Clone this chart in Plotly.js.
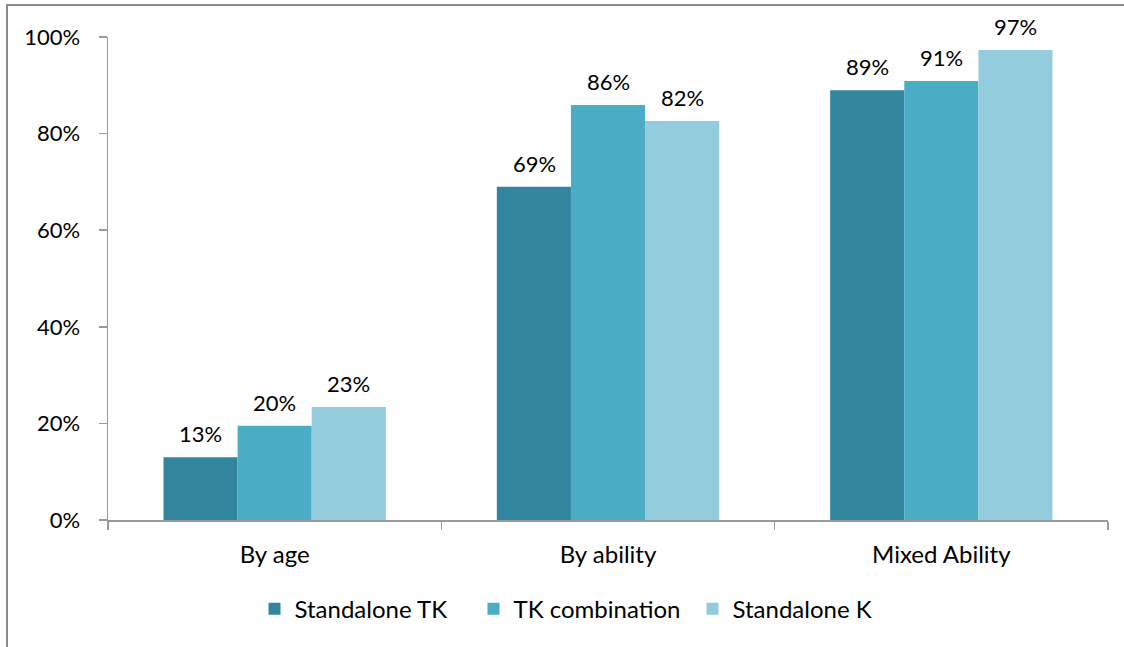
<!DOCTYPE html>
<html>
<head>
<meta charset="utf-8">
<script src="https://cdn.plot.ly/plotly-3.0.1.min.js"></script>
<style>
  html, body { margin: 0; padding: 0; background: #fff; }
  #wrap { position: relative; width: 1124px; height: 647px; overflow: hidden; }
  #chart { position: absolute; left: 0; top: 0; width: 1124px; height: 647px; }
  #frame { position: absolute; left: 6px; top: 4px; width: 1130px; height: 660px;
           border-left: 2px solid #8a8a8a; border-top: 2px solid #8a8a8a; pointer-events: none; }
</style>
</head>
<body>
<div id="wrap">
  <div id="chart"></div>
  <div id="frame"></div>
</div>
<script>
const categories = ["By age", "By ability", "Mixed Ability"];
const seriesNames = ["Standalone TK", "TK combination", "Standalone K"];
const standaloneTK = [0.13, 0.69, 0.89];
const tkCombination = [0.195, 0.859, 0.909];
const standaloneK = [0.234, 0.826, 0.973];
const labelsTK = ["13%", "69%", "89%"];
const labelsComb = ["20%", "86%", "91%"];
const labelsK = ["23%", "82%", "97%"];
const colors = ["#31859c", "#4bacc6", "#93cddd"];

const fontFam = "Lato, 'Open Sans', 'Noto Sans', sans-serif";
const FS = 22;
const vals = [standaloneTK, tkCombination, standaloneK];
const labs = [labelsTK, labelsComb, labelsK];

const data = seriesNames.map((n, i) => ({
  type: "bar",
  name: n,
  x: categories,
  y: vals[i],
  marker: { color: colors[i], line: { width: 0 } },
  hoverinfo: "skip"
}));

const barPx = 74;
const annotations = [];
vals.forEach((arr, i) => {
  arr.forEach((v, j) => {
    annotations.push({
      x: categories[j], y: v, xref: "x", yref: "y",
      text: labs[i][j], showarrow: false,
      xanchor: "center", yanchor: "bottom",
      xshift: (i - 1) * barPx, yshift: 8,
      font: { family: fontFam, size: FS, color: "#000" }
    });
  });
});

const layout = {
  width: 1124, height: 647,
  margin: { l: 108, r: 16, t: 37, b: 127, autoexpand: false },
  paper_bgcolor: "#fff", plot_bgcolor: "#fff",
  barmode: "group", bargap: 0.333, bargroupgap: 0,
  font: { family: fontFam, size: FS, color: "#000" },
  showlegend: true,
  annotations: annotations,
  legend: { orientation: "h", x: 0.475, xanchor: "center", y: -0.138, yanchor: "top",
            entrywidth: 174, entrywidthmode: "pixels",
            font: { family: fontFam, size: 24, color: "#000" }, itemwidth: 30, tracegroupgap: 0 },
  xaxis: {
    showline: true, linecolor: "#9a9a9a", linewidth: 1.5,
    ticks: "outside", tickson: "boundaries", ticklen: 8, tickcolor: "#9a9a9a", tickwidth: 1.5,
    ticklabelstandoff: 13, automargin: false,
    showgrid: false, zeroline: false,
    tickfont: { family: fontFam, size: 24, color: "#000" }
  },
  yaxis: {
    range: [0, 1], dtick: 0.2, tickformat: ".0%",
    showline: true, linecolor: "#9a9a9a", linewidth: 1.5,
    ticks: "outside", ticklen: 8, tickcolor: "#9a9a9a", tickwidth: 1.5,
    ticklabelstandoff: 14, automargin: false,
    showgrid: false, zeroline: false,
    tickfont: { family: fontFam, size: FS, color: "#000" }
  }
};

Plotly.newPlot("chart", data, layout, { staticPlot: true, displayModeBar: false });
</script>
</body>
</html>
